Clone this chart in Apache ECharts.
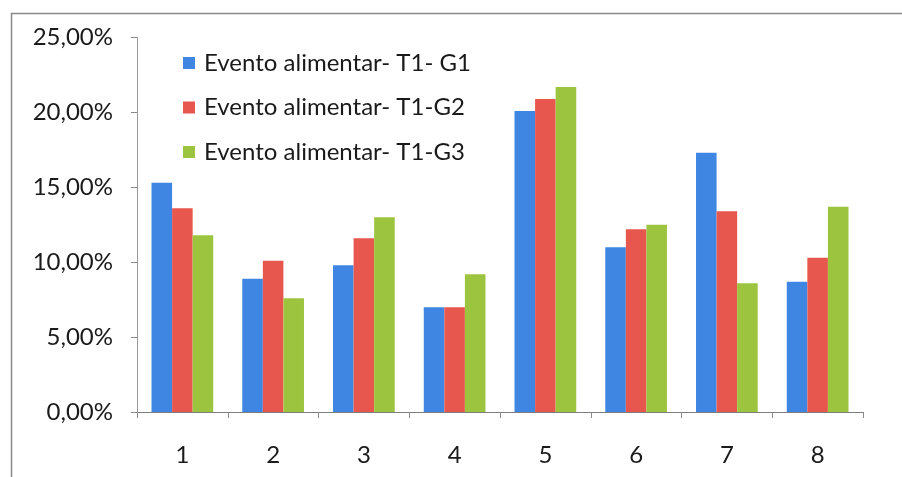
<!DOCTYPE html>
<html>
<head>
<meta charset="utf-8">
<script src="https://cdn.jsdelivr.net/npm/echarts@6/dist/echarts.min.js"></script>
<style>
  html, body { margin: 0; padding: 0; background: #ffffff; }
  #chart { width: 902px; height: 477px; }
</style>
</head>
<body>
<div id="chart"></div>
<script>
// Categories along the x axis
const categories = ['1', '2', '3', '4', '5', '6', '7', '8'];

// Series names
const seriesNames = [
  'Evento alimentar- T1- G1',
  'Evento alimentar- T1-G2',
  'Evento alimentar- T1-G3'
];

// Values in percent
const g1Values = [15.3, 8.9, 9.8, 7.0, 20.1, 11.0, 17.3, 8.7];
const g2Values = [13.6, 10.1, 11.6, 7.0, 20.9, 12.2, 13.4, 10.3];
const g3Values = [11.8, 7.6, 13.0, 9.2, 21.7, 12.5, 8.6, 13.7];

// Y axis range and step (percent)
const yMin = 0;
const yMax = 25;
const yStep = 5;

const colors = ['#3f86e2', '#e8574e', '#9cc43f'];
const fontFamily = 'Lato, "Open Sans", sans-serif';

const chart = echarts.init(document.getElementById('chart'), null, { renderer: 'canvas' });

const formatPct = v => v.toFixed(2).replace('.', ',') + '%';

const option = {
  backgroundColor: '#ffffff',
  animation: false,
  graphic: [{
    type: 'rect',
    shape: { x: 11.5, y: 13.5, width: 1000, height: 1000 },
    style: { fill: 'none', stroke: '#8a8a8a', lineWidth: 1.5 },
    silent: true
  }],
  grid: { left: 137, right: 39, top: 37.5, bottom: 65, containLabel: false },
  legend: {
    orient: 'vertical',
    left: 183,
    top: 51,
    padding: 0,
    itemWidth: 12,
    itemHeight: 12,
    itemGap: 20.5,
    icon: 'rect',
    textStyle: { fontFamily, fontSize: 24, color: '#1a1a1a', lineHeight: 22, padding: [0, 0, 0, 4] },
    data: seriesNames
  },
  xAxis: {
    type: 'category',
    data: categories,
    axisLine: { lineStyle: { color: '#7f7f7f', width: 1 } },
    axisTick: { show: true, alignWithLabel: false, length: 6, lineStyle: { color: '#8a8a8a' } },
    axisLabel: { fontFamily, fontSize: 24, color: '#1a1a1a', margin: 31 }
  },
  yAxis: {
    type: 'value',
    min: yMin,
    max: yMax,
    interval: yStep,
    axisLine: { show: true, lineStyle: { color: '#9a9a9a', width: 1 } },
    axisTick: { show: true, length: 6, lineStyle: { color: '#8a8a8a' } },
    splitLine: { show: false },
    axisLabel: { fontFamily, fontSize: 24, color: '#1a1a1a', margin: 24, formatter: formatPct }
  },
  series: [g1Values, g2Values, g3Values].map((vals, i) => ({
    name: seriesNames[i],
    type: 'bar',
    data: vals,
    barGap: '0%',
    barCategoryGap: '32%',
    itemStyle: { color: colors[i] }
  }))
};

chart.setOption(option);
</script>
</body>
</html>
